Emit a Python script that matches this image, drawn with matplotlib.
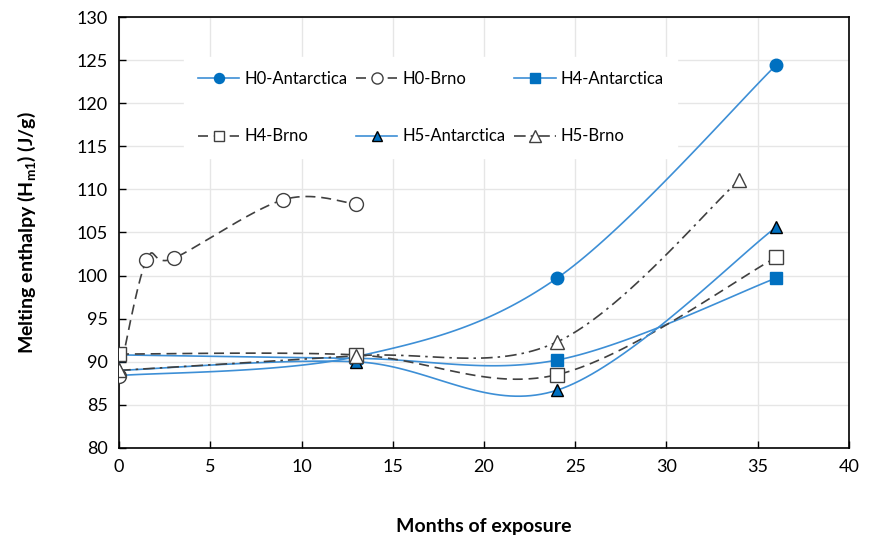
import matplotlib
matplotlib.use("Agg")
import matplotlib.pyplot as plt
import numpy as np

plt.rcParams['font.family'] = ['Lato', 'DejaVu Sans']
plt.rcParams['mathtext.fontset'] = 'custom'
plt.rcParams['mathtext.rm'] = 'Lato'
plt.rcParams['mathtext.bf'] = 'Lato:bold'

# data
x_h0_ant = [0, 13, 24, 36]
y_h0_ant = [88.4, 90.6, 99.7, 124.4]
x_h0_brno = [0, 1.5, 3, 9, 13]
y_h0_brno = [88.3, 101.8, 102.0, 108.8, 108.3]
x_h4_ant = [0, 13, 24, 36]
y_h4_ant = [90.8, 90.4, 90.2, 99.7]
x_h4_brno = [0, 13, 24, 36]
y_h4_brno = [90.9, 90.8, 88.5, 102.1]
x_h5_ant = [0, 13, 24, 36]
y_h5_ant = [89.0, 90.0, 86.7, 105.6]
x_h5_brno = [0, 13, 24, 34]
y_h5_brno = [89.0, 90.7, 92.3, 111.1]


def smooth(xs, ys, n=40):
    # Excel-like smoothed line (bezier through the points)
    p = np.column_stack([xs, ys]).astype(float)
    pts = np.vstack([p[0], p, p[-1]])
    out = []
    for i in range(1, len(pts) - 2):
        p0, p1, p2, p3 = pts[i - 1], pts[i], pts[i + 1], pts[i + 2]
        c1 = p1 + (p2 - p0) / 6
        c2 = p2 - (p3 - p1) / 6
        t = np.linspace(0, 1, n)[:, None]
        seg = ((1 - t) ** 3) * p1 + 3 * ((1 - t) ** 2) * t * c1 + 3 * (1 - t) * t ** 2 * c2 + t ** 3 * p2
        out.append(seg)
    seg = np.vstack(out)
    return seg[:, 0], seg[:, 1]


blue_line = '#3d8fd6'
blue = '#0070c0'
dark = '#404040'

fig = plt.figure(figsize=(8.72, 5.4), dpi=100)
ax = fig.add_axes([0.1365, 0.1704, 0.8371, 0.7981])

series = [
    ('H0-Antarctica', x_h0_ant, y_h0_ant, blue_line, '-', 'o', blue, blue, 9),
    ('H0-Brno', x_h0_brno, y_h0_brno, dark, (0, (6, 3.5)), 'o', 'white', dark, 10),
    ('H4-Antarctica', x_h4_ant, y_h4_ant, blue_line, '-', 's', blue, blue, 8.5),
    ('H4-Brno', x_h4_brno, y_h4_brno, dark, (0, (6, 3.5)), 's', 'white', dark, 9.5),
    ('H5-Antarctica', x_h5_ant, y_h5_ant, blue_line, '-', '^', blue, 'black', 9),
    ('H5-Brno', x_h5_brno, y_h5_brno, dark, (0, (7, 3, 1.5, 3)), '^', 'white', dark, 10),
]

handles = []
for name, xs, ys, lc, ls, mk, mfc, mec, ms in series:
    sx, sy = smooth(xs, ys)
    ax.plot(sx, sy, color=lc, ls=ls, lw=1.2, zorder=3)
    ax.plot(xs, ys, ls='none', marker=mk, ms=ms, mfc=mfc, mec=mec, mew=1.0, zorder=4)
    h, = ax.plot([], [], color=lc, ls=ls, lw=1.2, marker=mk, ms=ms * 0.8, mfc=mfc, mec=mec, mew=1.0, label=name)
    handles.append(h)

ax.set_xlim(0, 40)
ax.set_ylim(80, 130)
ax.set_xticks(np.arange(0, 41, 5))
ax.set_yticks(np.arange(80, 131, 5))
ax.grid(True, color='#e6e6e6', lw=1.0, zorder=0)
ax.set_axisbelow(True)
ax.tick_params(direction='in', length=5, width=1, labelsize=13, pad=8, colors='black')
for s in ax.spines.values():
    s.set_color('black')
    s.set_linewidth(1.2)

ax.set_xlabel('Months of exposure', fontsize=14, fontweight='bold', labelpad=31)
ax.set_ylabel(r'Melting enthalpy (H$_{\mathbf{m1}}$) (J/g)', fontsize=14, fontweight='bold', labelpad=28)

order = [0, 3, 1, 4, 2, 5]
leg = ax.legend(handles=[handles[i] for i in order], ncol=3, loc='center', bbox_to_anchor=(0.427, 0.79),
                frameon=True, fontsize=12, handlelength=2.5, handletextpad=0.3,
                columnspacing=0.5, labelspacing=2.5, borderpad=0.8, fancybox=False)
leg.get_frame().set_edgecolor('white')
leg.get_frame().set_facecolor('white')
leg.get_frame().set_alpha(1)

fig.savefig('out.png', dpi=100)
